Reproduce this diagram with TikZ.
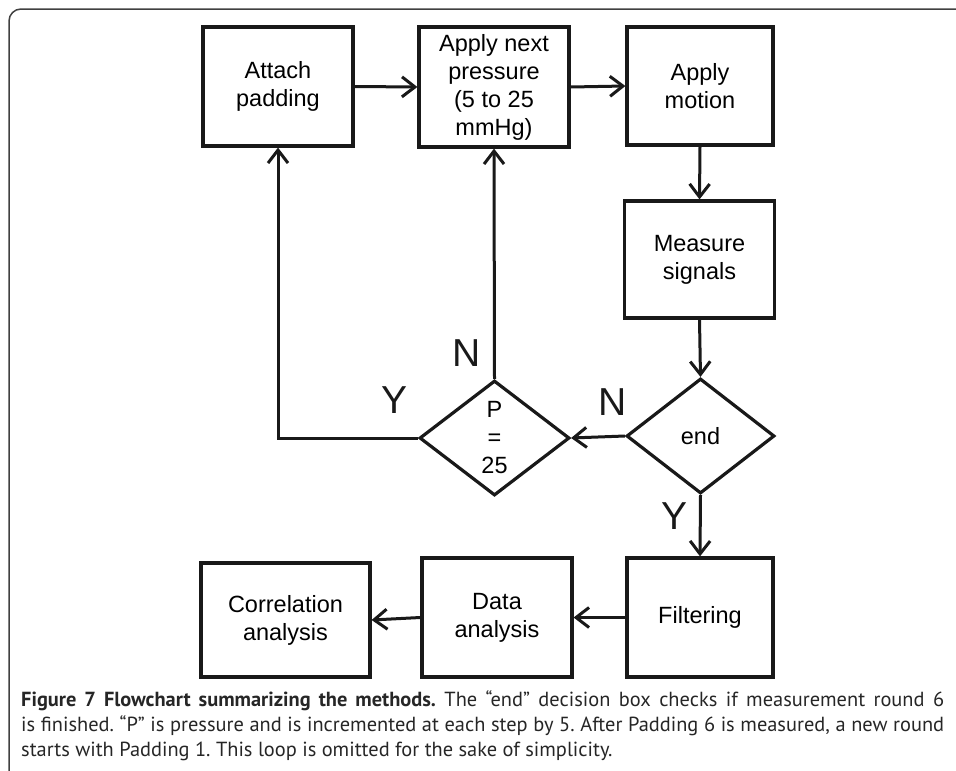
\documentclass[tikz,border=0pt]{standalone}
\usepackage{fontspec}
\setmainfont{Liberation Sans}
\newfontfamily\capfont{PT Sans}
\usetikzlibrary{arrows.meta,shapes.geometric}
\begin{document}
\frenchspacing
\begin{tikzpicture}[x=1pt,y=-1pt,
  box/.style={draw=black!90,line width=3.2pt,rectangle,inner sep=0pt,align=center,
    font=\fontsize{23.5}{28}\selectfont},
  dec/.style={draw=black!90,line width=3.2pt,diamond,inner sep=0pt,align=center,
    font=\fontsize{23.5}{28}\selectfont},
  flow/.style={draw=black!90,line width=3pt,-{Straight Barb[length=13pt,width=20pt]}},
  lab/.style={font=\fontsize{39}{40}\selectfont,inner sep=0pt,text=black!90},
  capline/.style={anchor=base west,inner sep=0pt,font=\capfont\fontsize{20.4}{24}\selectfont,text=black!85}]
\useasboundingbox (0,0) rectangle (956,771);
\draw[line width=1.5pt,black!75,rounded corners=12pt] (9,771) -- (9,9) -- (957,9);
% boxes
\node[box,minimum width=150pt,minimum height=119pt] (attach) at (278,86.5) {Attach\\padding};
\node[box,minimum width=150pt,minimum height=120pt] (press) at (494,87) {Apply next\\pressure\\(5 to 25\\mmHg)};
\node[box,minimum width=146pt,minimum height=118pt] (motion) at (700,86) {Apply\\motion};
\node[box,minimum width=150pt,minimum height=117pt] (measure) at (699.5,259.5) {Measure\\signals};
\node[dec,minimum width=148pt,minimum height=115pt,shape aspect=1.287] (endd) at (700.5,436) {end};
\node[dec,minimum width=150pt,minimum height=115pt,shape aspect=1.304] (pdec) at (494.5,438) {P\\=\\25};
\node[box,minimum width=146pt,minimum height=119pt] (filt) at (700,617.5) {Filtering};
\node[box,minimum width=150pt,minimum height=119pt] (data) at (497,617.5) {Data\\analysis};
\node[box,minimum width=169pt,minimum height=114pt] (corr) at (285.5,620) {Correlation\\analysis};
% connectors
\draw[flow] (attach.east) -- (press.west);
\draw[flow] (press.east) -- (motion.west);
\draw[flow] (motion.south) -- (measure.north);
\draw[flow] (measure.south) -- (endd.north);
\draw[flow] (endd.west) -- (pdec.east);
\draw[flow] (pdec.north) -- (press.south);
\draw[flow] (pdec.west) -| (attach.south);
\draw[flow] (endd.south) -- (filt.north);
\draw[flow] (filt.west) -- (data.east);
\draw[flow] (data.west) -- (corr.east);
% labels
\node[lab] (n1) at (467,353) {N};
\node[lab] (n2) at (613,402) {N};
\node[lab] (y1) at (395,400) {Y};
\node[lab] (y2) at (674,516) {Y};
% caption
\node[capline] (c1) at (21,706) {\makebox[923pt][s]{\textbf{Figure 7 Flowchart summarizing the methods.} The “end” decision box checks if measurement round 6}};
\node[capline] (c2) at (21,731) {\makebox[923pt][s]{is finished. “P” is pressure and is incremented at each step by 5. After Padding 6 is measured, a new round}};
\node[capline] (c3) at (21,756) {starts with Padding 1. This loop is omitted for the sake of simplicity.};
\end{tikzpicture}
\end{document}
